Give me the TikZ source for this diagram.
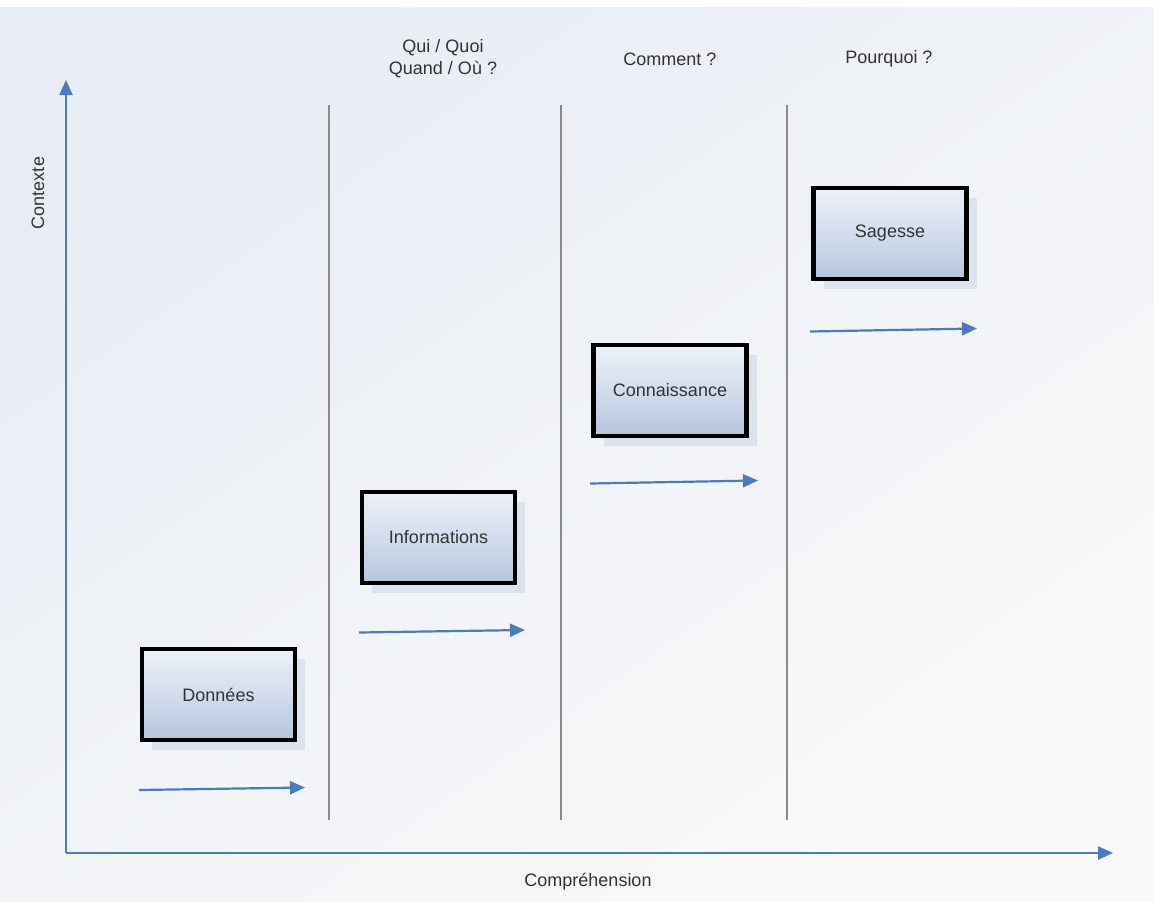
\documentclass[tikz,border=0pt]{standalone}
\usepackage{fontspec}
\setmainfont{Liberation Sans}
\usetikzlibrary{arrows.meta,shadows}
\definecolor{axisblue}{HTML}{4A7BC0}
\definecolor{gridgray}{HTML}{8A8A8A}
\definecolor{boxtop}{HTML}{EEF2F9}
\definecolor{boxbot}{HTML}{B6C6DF}
\definecolor{shadowblue}{HTML}{DDE3EC}
\definecolor{bgtop}{HTML}{E8EDF5}
\definecolor{bgbot}{HTML}{F9F9F9}
\definecolor{txt}{HTML}{333333}
\tikzset{
  lbl/.style={font=\fontsize{18}{22}\selectfont, text=txt, align=center, inner sep=0pt},
  stage/.style={draw=black, line width=4.5pt, top color=boxtop, bottom color=boxbot,
    minimum width=153pt, minimum height=91pt, inner sep=0pt,
    font=\fontsize{18}{22}\selectfont, text=txt,
    drop shadow={shadow xshift=10pt, shadow yshift=-10pt, fill=shadowblue, opacity=1}},
  axisarrow/.style={draw=axisblue, line width=2.4pt, -{Triangle[length=15pt,width=13pt]}},
  progress/.style={draw=axisblue, line width=2.2pt, -{Triangle[length=15pt,width=13pt]}},
  divider/.style={draw=gridgray, line width=1.5pt}
}
\begin{document}
\begin{tikzpicture}[x=1pt,y=-1pt]
% canvas
\useasboundingbox (0,0) rectangle (1154,902);
\fill[white] (0,0) rectangle (1154,902);
\shade[top color=bgtop, bottom color=bgbot, shading angle=35] (0,7) rectangle (1154,902);

% column dividers
\coordinate (d1t) at (329,105); \coordinate (d1b) at (329,820);
\coordinate (d2t) at (561,105); \coordinate (d2b) at (561,820);
\coordinate (d3t) at (787,105); \coordinate (d3b) at (787,820);
\draw[divider] (d1t) -- (d1b);
\draw[divider] (d2t) -- (d2b);
\draw[divider] (d3t) -- (d3b);

% axes
\coordinate (origin) at (66,853);
\coordinate (ytip) at (66,80);
\coordinate (xtip) at (1113,853);
\draw[axisarrow] (origin) -- (ytip);
\draw[axisarrow] (origin) -- (xtip);
\node[lbl, rotate=90] (ylabel) at (38,193) {Contexte};
\node[lbl] (xlabel) at (588,882) {Compréhension};

% column headings
\node[lbl] (q1) at (443,59) {Qui / Quoi\\Quand / Où ?};
\node[lbl] (q2) at (670,59) {Comment ?};
\node[lbl] (q3) at (889,59) {Pourquoi ?};

% stages
\node[stage] (donnees) at (218.5,694.5) {Données};
\node[stage] (infos) at (438.5,537.5) {Informations};
\node[stage] (conn) at (670,390.5) {Connaissance};
\node[stage] (sagesse) at (890,233.5) {Sagesse};

% progress arrows
\coordinate (a1s) at (139,790); \coordinate (a1e) at (305,787.5);
\coordinate (a2s) at (359,632.5); \coordinate (a2e) at (525,630);
\coordinate (a3s) at (590,483.5); \coordinate (a3e) at (758,480.5);
\coordinate (a4s) at (810,331.5); \coordinate (a4e) at (977,328.5);
\draw[progress] (a1s) -- (a1e);
\draw[progress] (a2s) -- (a2e);
\draw[progress] (a3s) -- (a3e);
\draw[progress] (a4s) -- (a4e);
\end{tikzpicture}
\end{document}
